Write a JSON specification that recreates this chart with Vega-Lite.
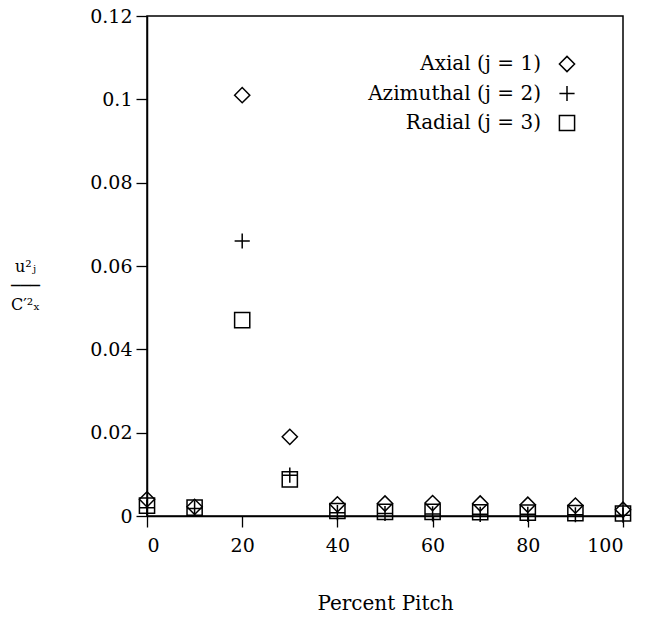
{
  "$schema": "https://vega.github.io/schema/vega-lite/v6.json",
  "autosize": "none",
  "width": 476,
  "height": 500,
  "padding": {"left": 147, "top": 16, "right": 22, "bottom": 110},
  "background": "white",
  "config": {
    "font": "DejaVu Serif",
    "view": {"stroke": "black", "strokeWidth": 1.5},
    "axis": {
      "grid": false,
      "domainColor": "black",
      "domainWidth": 1.5,
      "tickColor": "black",
      "tickWidth": 1.3,
      "tickSize": 11,
      "labelColor": "black",
      "labelFont": "DejaVu Serif",
      "labelFontSize": 19,
      "titleColor": "black",
      "titleFont": "DejaVu Serif",
      "titleFontWeight": "normal"
    }
  },
  "data": {
    "values": [
      {"series": "Axial (j = 1)", "pitch": 0, "value": 0.004},
      {"series": "Axial (j = 1)", "pitch": 10, "value": 0.0022},
      {"series": "Axial (j = 1)", "pitch": 20, "value": 0.101},
      {"series": "Axial (j = 1)", "pitch": 30, "value": 0.019},
      {"series": "Axial (j = 1)", "pitch": 40, "value": 0.0028},
      {"series": "Axial (j = 1)", "pitch": 50, "value": 0.003},
      {"series": "Axial (j = 1)", "pitch": 60, "value": 0.0031},
      {"series": "Axial (j = 1)", "pitch": 70, "value": 0.003},
      {"series": "Axial (j = 1)", "pitch": 80, "value": 0.0027},
      {"series": "Axial (j = 1)", "pitch": 90, "value": 0.0025},
      {"series": "Axial (j = 1)", "pitch": 100, "value": 0.0015},
      {"series": "Azimuthal (j = 2)", "pitch": 0, "value": 0.002},
      {"series": "Azimuthal (j = 2)", "pitch": 10, "value": 0.0018},
      {"series": "Azimuthal (j = 2)", "pitch": 20, "value": 0.066},
      {"series": "Azimuthal (j = 2)", "pitch": 30, "value": 0.0098},
      {"series": "Azimuthal (j = 2)", "pitch": 40, "value": 0.0008},
      {"series": "Azimuthal (j = 2)", "pitch": 50, "value": 0.0006},
      {"series": "Azimuthal (j = 2)", "pitch": 60, "value": 0.0005},
      {"series": "Azimuthal (j = 2)", "pitch": 70, "value": 0.0004},
      {"series": "Azimuthal (j = 2)", "pitch": 80, "value": 0.0004},
      {"series": "Azimuthal (j = 2)", "pitch": 90, "value": 0.0003},
      {"series": "Azimuthal (j = 2)", "pitch": 100, "value": 0.0002},
      {"series": "Radial (j = 3)", "pitch": 0, "value": 0.0025},
      {"series": "Radial (j = 3)", "pitch": 10, "value": 0.002},
      {"series": "Radial (j = 3)", "pitch": 20, "value": 0.047},
      {"series": "Radial (j = 3)", "pitch": 30, "value": 0.0088},
      {"series": "Radial (j = 3)", "pitch": 40, "value": 0.0012},
      {"series": "Radial (j = 3)", "pitch": 50, "value": 0.001},
      {"series": "Radial (j = 3)", "pitch": 60, "value": 0.001},
      {"series": "Radial (j = 3)", "pitch": 70, "value": 0.0009},
      {"series": "Radial (j = 3)", "pitch": 80, "value": 0.0008},
      {"series": "Radial (j = 3)", "pitch": 90, "value": 0.0007},
      {"series": "Radial (j = 3)", "pitch": 100, "value": 0.0006}
    ]
  },
  "mark": {"type": "point", "filled": false, "stroke": "black", "strokeWidth": 1.5, "opacity": 1, "size": 230, "clip": false},
  "encoding": {
    "x": {
      "field": "pitch",
      "type": "quantitative",
      "scale": {"domain": [0, 100], "nice": false, "zero": false},
      "axis": {
        "values": [0, 20, 40, 60, 80, 100],
        "labelPadding": 9,
        "title": "Percent Pitch",
        "titleFontSize": 20,
        "titlePadding": 38
      }
    },
    "y": {
      "field": "value",
      "type": "quantitative",
      "scale": {"domain": [0, 0.12], "nice": false},
      "axis": {
        "values": [0, 0.02, 0.04, 0.06, 0.08, 0.1, 0.12],
        "format": ".2~f",
        "labelPadding": 4,
        "title": ["u²ⱼ", "───", "C′²ₓ"],
        "titleFontSize": 16,
        "titleLineHeight": 19,
        "titleAngle": 0,
        "titleAlign": "center",
        "titleBaseline": "middle",
        "titleX": -122,
        "titleY": 250
      }
    },
    "shape": {
      "field": "series",
      "type": "nominal",
      "scale": {
        "domain": ["Axial (j = 1)", "Azimuthal (j = 2)", "Radial (j = 3)"],
        "range": ["diamond", "M-1,0H1M0,-1V1", "square"]
      },
      "legend": {
        "title": null,
        "orient": "none",
        "legendX": 410,
        "legendY": 38,
        "labelAlign": "right",
        "labelOffset": -36,
        "labelFont": "DejaVu Serif",
        "labelFontSize": 20,
        "labelColor": "black",
        "labelLimit": 300,
        "symbolSize": 230,
        "symbolStrokeColor": "black",
        "symbolStrokeWidth": 1.5,
        "symbolFillColor": "transparent",
        "rowPadding": 7.5
      }
    }
  }
}
